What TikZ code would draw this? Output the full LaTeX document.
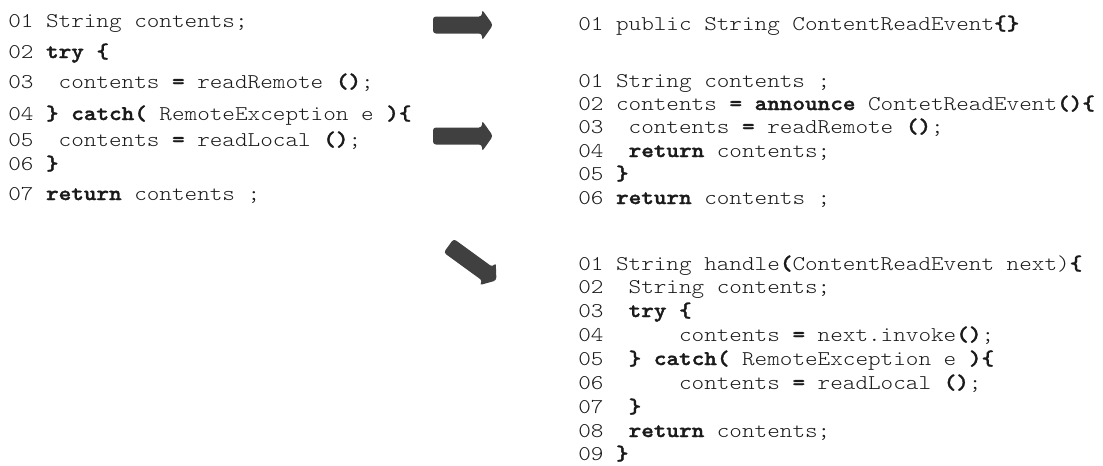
\documentclass[tikz,border=0pt]{standalone}
\usepackage{fontspec}
\setmonofont{lmmonolt10-regular}[Extension=.otf, BoldFont=lmmonolt10-bold, BoldFeatures={FakeBold=1.6}, FakeStretch=1.143]
\definecolor{arrowgray}{HTML}{404040}
\definecolor{codetext}{HTML}{1A1A1A}
\newcommand\codefont{\ttfamily\fontsize{15.75}{18}\selectfont}
\newcommand\kw[1]{\textbf{#1}}
\tikzset{
  code/.style={anchor=base west, inner sep=0pt, font=\codefont, text=codetext},
  blockarrow/.style={fill=arrowgray, rounded corners=2.2}
}
\begin{document}
\begin{tikzpicture}[x=0.75pt,y=-0.75pt]
\useasboundingbox (0,0) rectangle (1103,465);
% left block
\node[code] (L1) at (8,27)  {01 String contents;};
\node[code] (L2) at (8,58)  {02 \kw{try \{}};
\node[code] (L3) at (8,88)  {03~~contents \kw{=} readRemote \kw{()};};
\node[code] (L4) at (8,120) {04 \kw{\}} \kw{catch(} RemoteException e \kw{)\{}};
\node[code] (L5) at (8,146) {05~~contents \kw{=} readLocal \kw{()};};
\node[code] (L6) at (8,170) {06 \kw{\}}};
\node[code] (L7) at (8,200) {07 \kw{return} contents ;};
% right top
\node[code] (R1) at (578,30) {01 public String ContentReadEvent\kw{\{\}}};
\node[code] (S1) at (578,87)  {01 String contents ;};
\node[code] (S2) at (578,110) {02 contents \kw{=} \kw{announce} ContetReadEvent\kw{()\{}};
\node[code] (S3) at (578,133) {03~~contents \kw{=} readRemote \kw{()};};
\node[code] (S4) at (578,157) {04~~\kw{return} contents;};
\node[code] (S5) at (578,180) {05 \kw{\}}};
\node[code] (S6) at (578,204) {06 \kw{return} contents ;};
% handle block
\node[code] (H1) at (578,270) {01 String handle\kw{(}ContentReadEvent next)\kw{\{}};
\node[code] (H2) at (578,293) {02~~String contents;};
\node[code] (H3) at (578,317) {03~~\kw{try \{}};
\node[code] (H4) at (578,341) {04~~~~~~contents \kw{=} next.invoke\kw{()};};
\node[code] (H5) at (578,365) {05~~\kw{\}} \kw{catch(} RemoteException e \kw{)\{}};
\node[code] (H6) at (578,389) {06~~~~~~contents \kw{=} readLocal \kw{()};};
\node[code] (H7) at (578,413) {07~~\kw{\}}};
\node[code] (H8) at (578,437) {08~~\kw{return} contents;};
\node[code] (H9) at (578,460) {09 \kw{\}}};
% arrows
\begin{scope}[shift={(433,25)}]
  \coordinate (A1) at (0,0);
  \fill[blockarrow] (0,-8.5) -- (49,-8.5) -- (49,-15.5) -- (60,0) -- (49,15.5) -- (49,8.5) -- (0,8.5) -- cycle;
\end{scope}
\begin{scope}[shift={(433,136)}]
  \coordinate (A2) at (0,0);
  \fill[blockarrow] (0,-8.5) -- (49,-8.5) -- (49,-15.5) -- (60,0) -- (49,15.5) -- (49,8.5) -- (0,8.5) -- cycle;
\end{scope}
\begin{scope}[shift={(448.7,245.7)},rotate=-36]
  \coordinate (A3) at (0,0);
  \fill[blockarrow] (0,-8.5) -- (48,-8.5) -- (48,-14) -- (59,0) -- (48,14) -- (48,8.5) -- (0,8.5) -- cycle;
\end{scope}
\end{tikzpicture}
\end{document}
